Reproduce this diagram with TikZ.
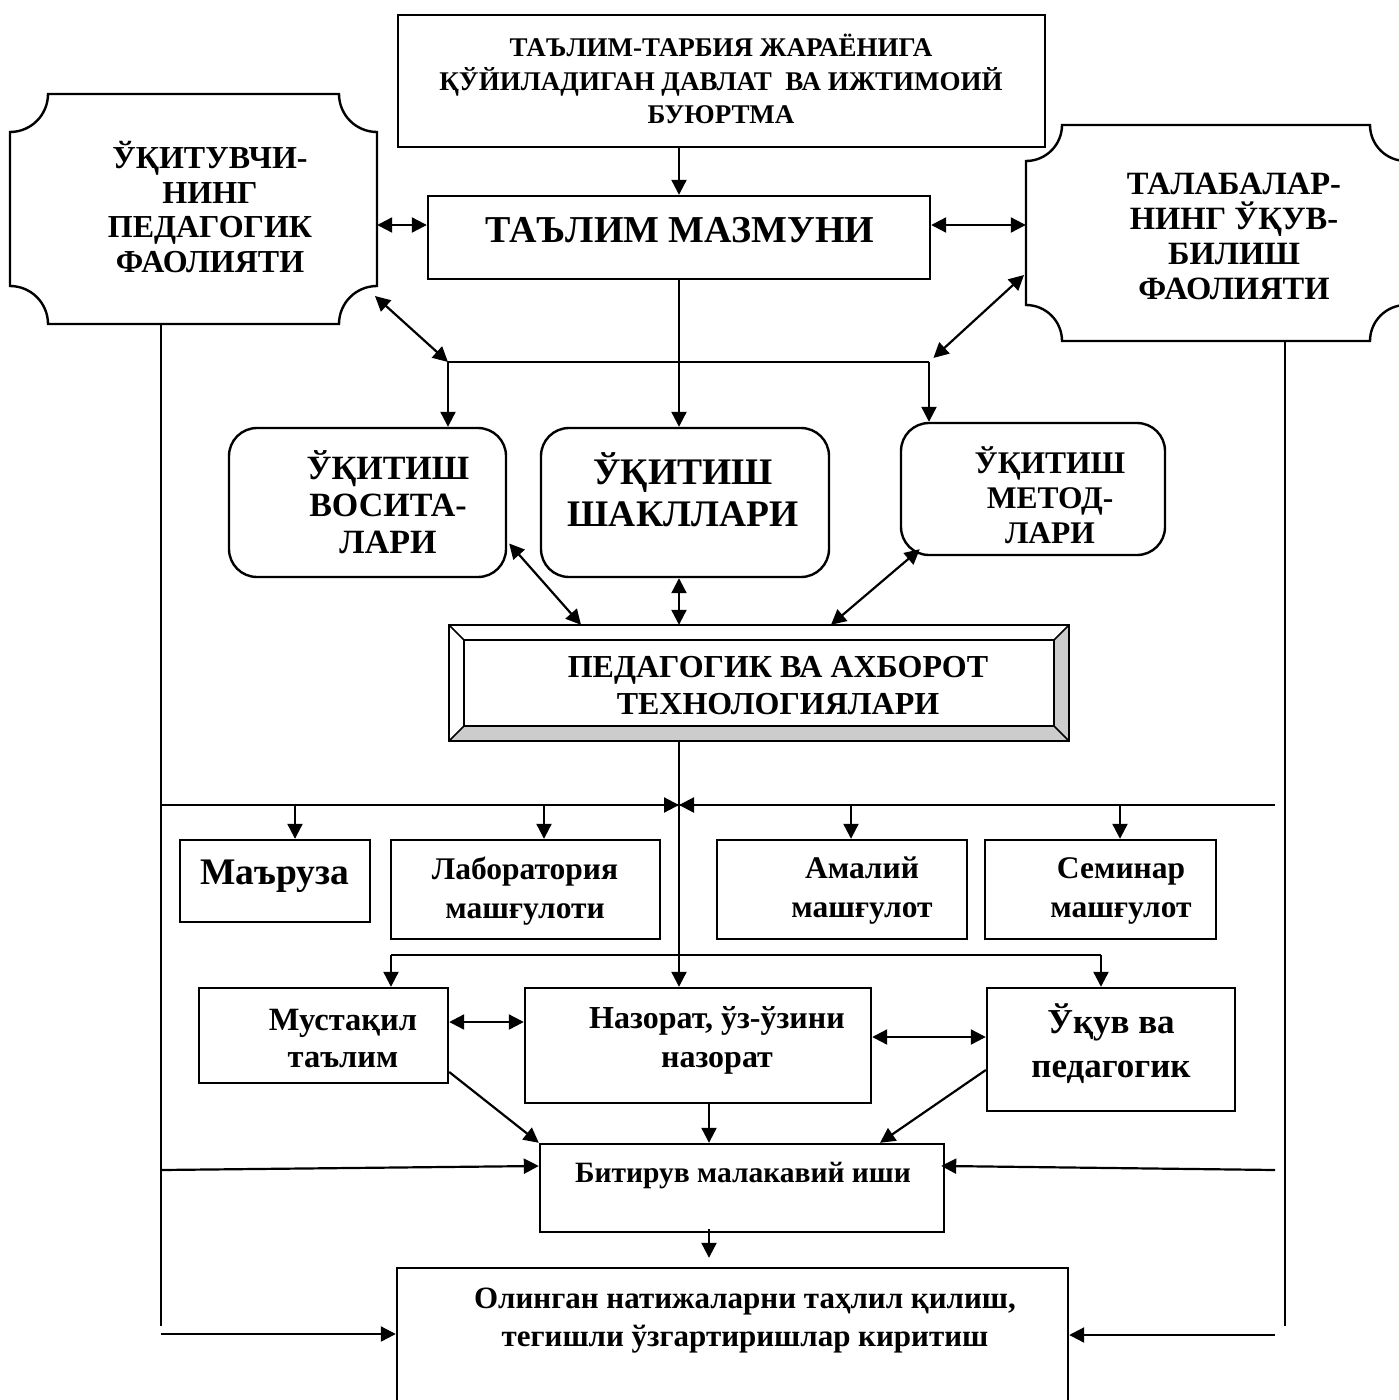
\documentclass[tikz,border=0pt]{standalone}
\usepackage{fontspec}
\setmainfont{Liberation Serif}
\usetikzlibrary{arrows.meta}
\newcommand{\fs}[2]{\fontsize{#1}{#2}\selectfont}
\begin{document}
\begin{tikzpicture}[x=1pt,y=-1pt,
  box/.style={draw, line width=2.4pt, inner sep=0pt},
  rbox/.style={box, rounded corners=28pt},
  ghost/.style={inner sep=0pt},
  txt/.style={align=center, font=\bfseries, inner sep=0pt},
  con/.style={line width=2.2pt},
  arr/.style={con, -{Triangle[length=15pt,width=15pt]}},
  darr/.style={con, {Triangle[length=15pt,width=15pt]}-{Triangle[length=15pt,width=15pt]}},
]
\useasboundingbox (0,0) rectangle (1398,1400);

% ---------- boxes ----------
\node[box, minimum width=647, minimum height=132] (top) at (721.5,81) {};
\node[box, minimum width=502, minimum height=83] (mazmun) at (679,237.5) {};
\node[ghost, minimum width=367, minimum height=230] (teach) at (193.5,209) {};
\node[ghost, minimum width=380, minimum height=216] (stud) at (1216,233) {};
\node[rbox, minimum width=277, minimum height=149] (vos) at (367.5,502.5) {};
\node[rbox, minimum width=288, minimum height=149] (shakl) at (685,502.5) {};
\node[rbox, minimum width=264, minimum height=132] (met) at (1033,489) {};
\node[ghost, minimum width=620, minimum height=116] (ped) at (759,683) {};
\node[box, minimum width=190, minimum height=82] (mar) at (275,881) {};
\node[box, minimum width=269, minimum height=99] (lab) at (525.5,889.5) {};
\node[box, minimum width=250, minimum height=99] (amal) at (842,889.5) {};
\node[box, minimum width=231, minimum height=99] (sem) at (1100.5,889.5) {};
\node[box, minimum width=249, minimum height=95] (must) at (323.5,1035.5) {};
\node[box, minimum width=346, minimum height=115] (naz) at (698,1045.5) {};
\node[box, minimum width=248, minimum height=123] (uqv) at (1111,1049.5) {};
\node[box, minimum width=404, minimum height=88] (bit) at (742,1188) {};
\node[box, minimum width=671, minimum height=160] (ol) at (732.5,1348) {};

% plaques with concave corners
\draw[line width=2.4pt] (48,94) -- (339,94) arc[start angle=180,end angle=90,radius=38]
  -- (377,286) arc[start angle=270,end angle=180,radius=38]
  -- (48,324) arc[start angle=0,end angle=-90,radius=38]
  -- (10,132) arc[start angle=90,end angle=0,radius=38] -- cycle;
\draw[line width=2.4pt] (1062,125) -- (1370,125) arc[start angle=180,end angle=90,radius=36]
  -- (1406,305) arc[start angle=270,end angle=180,radius=36]
  -- (1062,341) arc[start angle=0,end angle=-90,radius=36]
  -- (1026,161) arc[start angle=90,end angle=0,radius=36] -- cycle;

% bevelled box
\fill[gray!40] (ped.north west) rectangle (ped.south east);
\fill[white] (ped.north west) -- (ped.north east) -- ([shift={(-15,15)}]ped.north east)
  -- ([shift={(15,15)}]ped.north west) -- cycle;
\fill[white] (ped.north west) -- ([shift={(15,15)}]ped.north west)
  -- ([shift={(15,-15)}]ped.south west) -- (ped.south west) -- cycle;
\draw[line width=2.2pt, fill=white] ([shift={(15,15)}]ped.north west) rectangle ([shift={(-15,-15)}]ped.south east);
\draw[line width=2.2pt] (ped.north west) rectangle (ped.south east);
\draw[line width=1.6pt] (ped.north west) -- ([shift={(15,15)}]ped.north west)
  (ped.north east) -- ([shift={(-15,15)}]ped.north east)
  (ped.south west) -- ([shift={(15,-15)}]ped.south west)
  (ped.south east) -- ([shift={(-15,-15)}]ped.south east);

% ---------- texts ----------
\node[txt, font=\bfseries\fs{27}{33.5}] (top-t) at (721,79) {ТАЪЛИМ-ТАРБИЯ ЖАРАЁНИГА\\ҚЎЙИЛАДИГАН ДАВЛАТ \ ВА ИЖТИМОИЙ\\БУЮРТМА};
\node[txt, font=\bfseries\fs{38}{40}] (mazmun-t) at (680,230) {ТАЪЛИМ МАЗМУНИ};
\node[txt, font=\bfseries\fs{32}{34.5}] (teach-t) at (210,207) {ЎҚИТУВЧИ-\\НИНГ\\ПЕДАГОГИК\\ФАОЛИЯТИ};
\node[txt, font=\bfseries\fs{32.5}{35}] (stud-t) at (1234,236) {ТАЛАБАЛАР-\\НИНГ ЎҚУВ-\\БИЛИШ\\ФАОЛИЯТИ};
\node[txt, font=\bfseries\fs{34}{37}] (vos-t) at (388,502) {ЎҚИТИШ\\ВОСИТА-\\ЛАРИ};
\node[txt, font=\bfseries\fs{37.5}{42}] (shakl-t) at (683,490) {ЎҚИТИШ\\ШАКЛЛАРИ};
\node[txt, font=\bfseries\fs{31.5}{35}] (met-t) at (1050,495) {ЎҚИТИШ\\МЕТОД-\\ЛАРИ};
\node[txt, font=\bfseries\fs{32}{37}] (ped-t) at (778,686) {ПЕДАГОГИК ВА АХБОРОТ\\ТЕХНОЛОГИЯЛАРИ};
\node[txt, font=\bfseries\fs{37.5}{40}] (mar-t) at (275,876) {Маъруза};
\node[txt, font=\bfseries\fs{31.5}{39}] (lab-t) at (525,891) {Лаборатория\\машғулоти};
\node[txt, font=\bfseries\fs{31.5}{39}] (amal-t) at (862,891) {Амалий\\машғулот};
\node[txt, font=\bfseries\fs{31.5}{39}] (sem-t) at (1121,891) {Семинар\\машғулот};
\node[txt, font=\bfseries\fs{32.5}{37}] (must-t) at (343,1039) {Мустақил\\таълим};
\node[txt, font=\bfseries\fs{32}{39}] (naz-t) at (717,1040) {Назорат, ўз-ўзини\\назорат};
\node[txt, font=\bfseries\fs{35}{44}] (uqv-t) at (1111,1044) {Ўқув ва\\педагогик};
\node[txt, font=\bfseries\fs{29.5}{30}] (bit-t) at (743,1176) {Битирув малакавий иши};
\node[txt, font=\bfseries\fs{31}{38}] (ol-t) at (745,1321) {Олинган натижаларни таҳлил қилиш,\\тегишли ўзгартиришлар киритиш};

% ---------- coordinates ----------
\coordinate (jl) at (448,362);
\coordinate (jr) at (929,362);
\coordinate (teachd) at (375,296);
\coordinate (studd) at (1024,275);
\coordinate (hl) at (161,805);
\coordinate (hr) at (1275,805);
\coordinate (bl) at (391,955);
\coordinate (br) at (1101,955);
\coordinate (lb) at (161,1326);
\coordinate (rb) at (1285,1326);
\coordinate (lm) at (161,1170);
\coordinate (rm) at (1275,1170);
\coordinate (ll) at (161,1334);
\coordinate (rl) at (1275,1335);

% ---------- connectors ----------
\draw[arr] (mazmun.north |- top.south) -- (mazmun.north);
\draw[darr] ([yshift=12.5pt]mazmun.west) -- ([yshift=12.5pt]mazmun.west -| teach.east);
\draw[darr] ([yshift=12.5pt]mazmun.east) -- ([yshift=12.5pt]mazmun.east -| stud.west);
\draw[darr] (teachd) -- (jl);
\draw[darr, shorten >=6pt] (studd) -- (jr);
\draw[con] (jl) -- (jr);
\draw[arr] (jl) -- (jl |- vos.north);
\draw[arr] (mazmun.south) -- (mazmun.south |- shakl.north);
\draw[arr] (jr) -- (jr |- met.north);

\draw[darr] ([shift={(2,41)}]vos.east) -- ([xshift=-178pt]ped.north);
\draw[darr] (mazmun.south |- shakl.south) -- (mazmun.south |- ped.north);
\draw[darr] ([shift={(20,-7)}]met.south west) -- ([xshift=72pt]ped.north);

\draw[arr] (mazmun.south |- ped.south) -- (mazmun.south |- naz.north);
\draw[con] (hl) -- (hr);
\draw[arr] (hl) -- (mazmun.south |- hl);
\draw[arr] (hr) -- (mazmun.south |- hr);
\draw[arr] ([xshift=20pt]mar.north |- hl) -- ([xshift=20pt]mar.north);
\draw[arr] ([xshift=18.5pt]lab.north |- hl) -- ([xshift=18.5pt]lab.north);
\draw[arr] ([xshift=9pt]amal.north |- hl) -- ([xshift=9pt]amal.north);
\draw[arr] ([xshift=19.5pt]sem.north |- hl) -- ([xshift=19.5pt]sem.north);

\draw[con] (bl) -- (br);
\draw[arr] (bl) -- (bl |- must.north);
\draw[arr] (br) -- (br |- uqv.north);
\draw[darr] ([yshift=13.5pt]must.east) -- ([yshift=13.5pt]must.east -| naz.west);
\draw[darr] ([yshift=8.5pt]naz.east) -- ([yshift=8.5pt]naz.east -| uqv.west);

\draw[arr] ([yshift=-36.5pt]must.east) -- (bit.north west);
\draw[arr] ([xshift=11pt]naz.south) -- ([xshift=11pt]naz.south |- bit.north);
\draw[arr] ([yshift=-20.5pt]uqv.west) -- ([xshift=138pt]bit.north);
\draw[arr] (lm) -- ([yshift=22pt]bit.west);
\draw[arr, shorten >=-4pt] (rm) -- ([yshift=22pt]bit.east);
\draw[arr, shorten >=9pt, shorten <=-4pt] ([xshift=-33pt]bit.south) -- ([xshift=-33pt]bit.south |- ol.north);
\draw[arr] (ll) -- (ll -| ol.west);
\draw[arr] (rl) -- (rl -| ol.east);

\draw[con] (lb |- teach.south) -- (lb);
\draw[con] (rb |- stud.south) -- (rb);
\end{tikzpicture}
\end{document}
